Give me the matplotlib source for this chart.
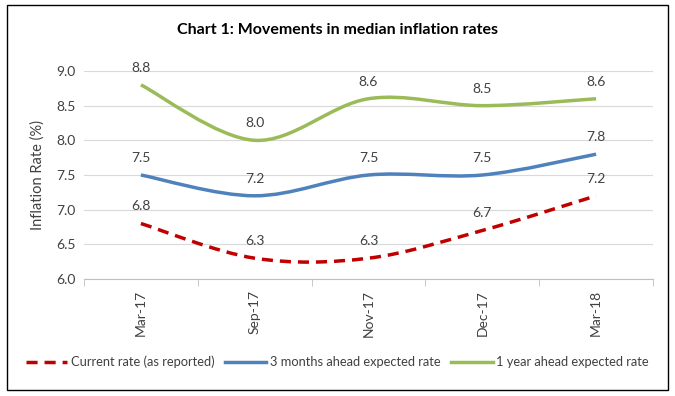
import matplotlib
matplotlib.use("Agg")
import matplotlib.pyplot as plt
import numpy as np
from matplotlib.path import Path
from matplotlib.patches import PathPatch, Rectangle
from matplotlib.lines import Line2D

categories = ["Mar-17", "Sep-17", "Nov-17", "Dec-17", "Mar-18"]
current_rate = [6.8, 6.3, 6.3, 6.7, 7.2]
three_month = [7.5, 7.2, 7.5, 7.5, 7.8]
one_year = [8.8, 8.0, 8.6, 8.5, 8.6]
series_names = ["Current rate (as reported)", "3 months ahead expected rate",
                "1 year ahead expected rate"]
y_ticks = [6.0, 6.5, 7.0, 7.5, 8.0, 8.5, 9.0]

plt.rcParams['font.family'] = ['Lato', 'DejaVu Sans']

fig = plt.figure(figsize=(6.75, 3.96), dpi=100)
ax = fig.add_axes([84/675, 1-279/396, (653-84)/675, (279-71)/396])

def smooth_path(xs, ys):
    pts = np.column_stack([xs, ys]).astype(float)
    n = len(pts)
    verts = [pts[0]]
    codes = [Path.MOVETO]
    for i in range(n-1):
        p0 = pts[i-1] if i > 0 else pts[i]
        p1 = pts[i]
        p2 = pts[i+1]
        p3 = pts[i+2] if i+2 < n else pts[i+1]
        c1 = p1 + (p2 - p0) / 6.0
        c2 = p2 - (p3 - p1) / 6.0
        verts += [c1, c2, p2]
        codes += [Path.CURVE4]*3
    return Path(verts, codes)

x = np.arange(len(categories))
styles = [
    (current_rate, "#C00000", (0, (3.2, 2.0))),
    (three_month, "#4F81BD", "solid"),
    (one_year, "#9BBB59", "solid"),
]
for vals, color, ls in styles:
    patch = PathPatch(smooth_path(x, vals), facecolor="none", edgecolor=color,
                      lw=2.5, linestyle=ls, capstyle="butt", zorder=3)
    ax.add_patch(patch)
    for xi, v in zip(x, vals):
        ax.annotate(f"{v:.1f}", (xi, v), xytext=(0, 8), textcoords="offset points",
                    ha="center", va="bottom", fontsize=10, color="#404040")

ax.set_xlim(-0.5, 4.5)
ax.set_ylim(6.0, 9.0)
ax.set_yticks(y_ticks)
ax.set_yticklabels([f"{t:.1f}" for t in y_ticks], fontsize=10, color="#404040")
ax.set_xticks(x)
ax.set_xticklabels(categories, rotation=90, fontsize=10, color="#404040")
ax.tick_params(axis="x", which="major", length=0, pad=8)
ax.set_xticks(np.arange(-0.5, 5, 1), minor=True)
ax.tick_params(axis="x", which="minor", length=5, color="#BFBFBF", direction="out")
ax.tick_params(axis="y", length=0, pad=6)
ax.grid(axis="y", color="#D9D9D9", lw=0.8)
ax.set_axisbelow(True)
for s in ["top", "right", "left"]:
    ax.spines[s].set_visible(False)
ax.spines["bottom"].set_color("#BFBFBF")
ax.set_ylabel("Inflation Rate (%)", fontsize=10.5, color="#404040", labelpad=8)

fig.text(0.5, 1-30/396, "Chart 1: Movements in median inflation rates",
         ha="center", va="center", fontsize=11.5, fontweight="bold", color="black")

handles = [Line2D([], [], color=c, lw=2.5, linestyle=ls) for _, c, ls in styles]
fig.legend(handles, series_names, loc="center", bbox_to_anchor=(0.5, 1-362/396),
           ncol=3, frameon=False, fontsize=9.3, handlelength=3.2, columnspacing=0.8,
           handletextpad=0.3, labelcolor="#404040")

fig.add_artist(Rectangle((7/675, 1-390/396), (668-7)/675, (390-5)/396,
                         transform=fig.transFigure, fill=False, edgecolor="black", lw=1))

fig.savefig("out.png", dpi=100)
